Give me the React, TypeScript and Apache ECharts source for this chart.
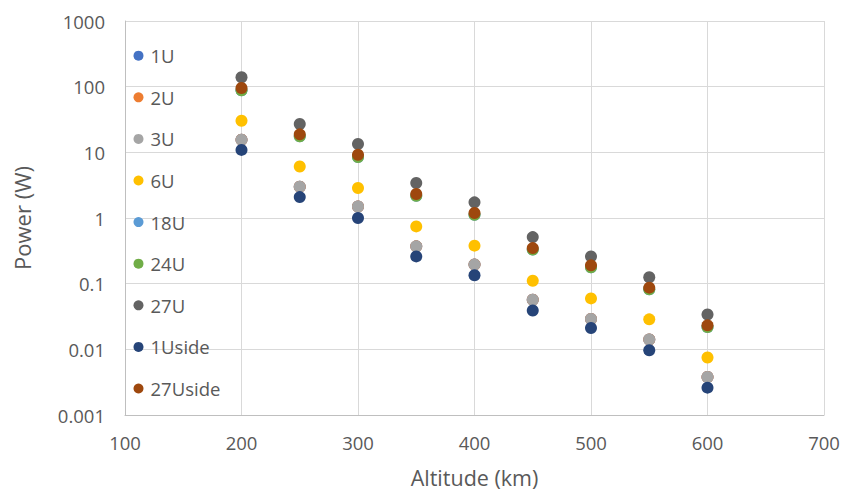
import React, { useEffect, useRef } from "react";
import * as echarts from "echarts";

const altitudes = [200, 250, 300, 350, 400, 450, 500, 550, 600];

const seriesNames = ["1U", "2U", "3U", "6U", "18U", "24U", "27U", "1Uside", "27Uside"];
const seriesColors = ["#4472C4", "#ED7D31", "#A5A5A5", "#FFC000", "#5B9BD5", "#70AD47", "#636363", "#264478", "#9E480E"];

// 1U and 2U are hidden beneath 3U; 18U hidden beneath 24U
const p3U = [15.6, 3.0, 1.5, 0.37, 0.195, 0.057, 0.029, 0.0141, 0.0038];
const p1U = [15.6, 3.0, 1.5, 0.37, 0.195, 0.057, 0.029, 0.0141, 0.0038];
const p2U = [15.6, 3.0, 1.5, 0.37, 0.195, 0.057, 0.029, 0.0141, 0.0038];
const p6U = [30.3, 6.1, 2.86, 0.745, 0.379, 0.111, 0.0597, 0.0286, 0.0075];
const p24U = [88, 17.6, 8.5, 2.18, 1.12, 0.33, 0.178, 0.082, 0.0218];
const p18U = [88, 17.6, 8.5, 2.18, 1.12, 0.33, 0.178, 0.082, 0.0218];
const p27U = [139, 27, 13.4, 3.41, 1.73, 0.512, 0.26, 0.125, 0.034];
const p1Uside = [10.9, 2.08, 1.0, 0.26, 0.134, 0.039, 0.0211, 0.00966, 0.00261];
const p27Uside = [95.5, 18.8, 9.2, 2.32, 1.19, 0.348, 0.19, 0.0869, 0.0232];

const seriesValues = [p1U, p2U, p3U, p6U, p18U, p24U, p27U, p1Uside, p27Uside];

const xTicks = { min: 100, max: 700, interval: 100 };
const yTicks = { min: 0.001, max: 1000 };

const FONT = "'Open Sans', Lato, sans-serif";
const TXT = "#595959";

export default function App() {
  const ref = useRef<HTMLDivElement>(null);
  useEffect(() => {
    if (!ref.current) return;
    document.body.style.margin = "0";
    const chart = echarts.init(ref.current, undefined, { renderer: "svg" });
    chart.setOption({
      animation: false,
      backgroundColor: "#ffffff",
      textStyle: { fontFamily: FONT },
      grid: {
        left: 125,
        right: 19,
        top: 21,
        bottom: 75,
        containLabel: false,
        outerBoundsMode: "none",
      },
      legend: {
        orient: "vertical",
        left: 133.5,
        top: 45.7,
        padding: 0,
        itemWidth: 14,
        itemHeight: 10,
        itemGap: 21.6,
        icon: "circle",
        data: seriesNames,
        textStyle: { color: TXT, fontSize: 18.5, fontFamily: FONT, lineHeight: 20 },
      },
      xAxis: {
        type: "value",
        min: xTicks.min,
        max: xTicks.max,
        interval: xTicks.interval,
        name: "Altitude (km)",
        nameLocation: "middle",
        nameGap: 51,
        nameTextStyle: { color: TXT, fontSize: 21.5, fontFamily: FONT, lineHeight: 22 },
        axisLine: { show: true, lineStyle: { color: "#BFBFBF" } },
        axisTick: { show: false },
        axisLabel: { color: TXT, fontSize: 18.5, margin: 18, fontFamily: FONT },
        splitLine: { show: true, lineStyle: { color: "#D9D9D9" } },
      },
      yAxis: {
        type: "log",
        logBase: 10,
        min: yTicks.min,
        max: yTicks.max,
        name: "Power (W)",
        nameLocation: "middle",
        nameGap: 92,
        nameTextStyle: { color: TXT, fontSize: 22, fontFamily: FONT },
        axisLine: { show: true, lineStyle: { color: "#BFBFBF" } },
        axisTick: { show: false },
        axisLabel: {
          color: TXT,
          fontSize: 18.5,
          margin: 20,
          fontFamily: FONT,
          formatter: (v: number) => String(Number(v.toPrecision(3))),
        },
        splitLine: { show: true, lineStyle: { color: "#D9D9D9" } },
      },
      series: seriesNames.map((name, i) => ({
        name,
        type: "scatter",
        symbol: "circle",
        symbolSize: 12,
        itemStyle: { color: seriesColors[i], opacity: 1 },
        data: altitudes.map((a, j) => [a, seriesValues[i][j]]),
      })),
    });
    return () => chart.dispose();
  }, []);
  return <div ref={ref} style={{ position: "fixed", left: 0, top: 0, width: 843, height: 490 }} />;
}
